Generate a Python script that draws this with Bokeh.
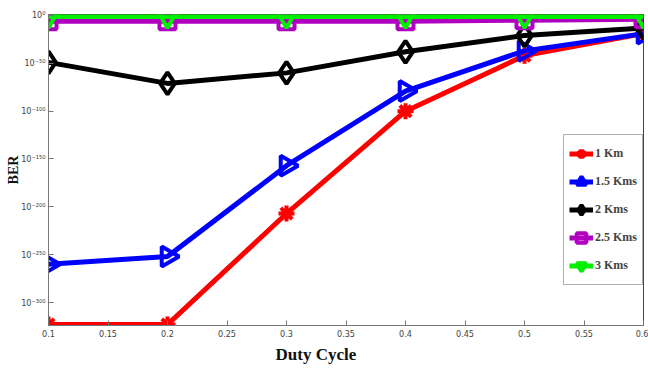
import math
from bokeh.plotting import figure
from bokeh.models import Legend, LegendItem, FixedTicker, Title
from bokeh.embed import file_html
from bokeh.resources import INLINE

# Data (BER expressed as exponent of 10)
duty = [0.1, 0.2, 0.3, 0.4, 0.5, 0.6]
ber_1km = [-323, -323, -207, -100, -42, -19]
ber_15km = [-260, -252, -157, -79, -37, -19]
ber_2km = [-49, -71, -60, -38, -21, -13]
ber_25km = [-6, -6, -6, -6, -5, -4]
ber_3km = [-1, -1, -1, -1, -1, -1]

series_names = ["1 Km", "1.5 Kms", "2 Kms", "2.5 Kms", "3 Kms"]
x_ticks = [0.1, 0.15, 0.2, 0.25, 0.3, 0.35, 0.4, 0.45, 0.5, 0.55, 0.6]
x_tick_labels = ["0.1", "0.15", "0.2", "0.25", "0.3", "0.35", "0.4", "0.45", "0.5", "0.55", "0.6"]
y_ticks = [0, -50, -100, -150, -200, -250, -300]
y_tick_labels = ["10\u2070", "10\u207b\u2075\u2070", "10\u207b\u00b9\u2070\u2070", "10\u207b\u00b9\u2075\u2070",
                 "10\u207b\u00b2\u2070\u2070", "10\u207b\u00b2\u2075\u2070", "10\u207b\u00b3\u2070\u2070"]

p = figure(width=648, height=373, output_backend="svg", toolbar_location=None,
           x_range=(0.1, 0.6), y_range=(-324, 1),
           min_border_left=48, min_border_right=5, min_border_top=14, min_border_bottom=48)
p.background_fill_color = "white"
p.border_fill_color = "white"
p.outline_line_color = "#444444"
p.grid.visible = False

p.xaxis.ticker = FixedTicker(ticks=x_ticks)
p.xaxis.major_label_overrides = {t: s for t, s in zip(x_ticks, x_tick_labels)}
p.yaxis.ticker = FixedTicker(ticks=y_ticks)
p.yaxis.major_label_overrides = {t: s for t, s in zip(y_ticks, y_tick_labels)}
for ax in (p.xaxis[0], p.yaxis[0]):
    ax.major_tick_in = 5
    ax.major_tick_out = 0
    ax.minor_tick_in = 0
    ax.minor_tick_out = 0
    ax.axis_line_color = "#777777"
    ax.major_tick_line_color = "#777777"
    ax.major_label_text_font = "DejaVu Sans Condensed"
    ax.major_label_text_font_size = "9px"
    ax.major_label_text_color = "#444444"
p.xaxis.major_label_standoff = 4
p.yaxis.major_label_standoff = 3

p.yaxis.axis_label = "BER"
p.yaxis.axis_label_text_font = "Liberation Serif"
p.yaxis.axis_label_text_font_style = "bold"
p.yaxis.axis_label_text_font_size = "14px"
p.yaxis.axis_label_text_color = "#111111"
p.yaxis.axis_label_standoff = -3

colors = ["#ff0000", "#0000ff", "#000000", "#b000c0", "#00ee00"]
markers = ["asterisk", "triangle", "diamond", "square", "inverted_triangle"]
angles = [0, -math.pi / 2, 0, 0, 0]
sizes = [16, 20, 22, 16, 20]
data = [ber_1km, ber_15km, ber_2km, ber_25km, ber_3km]

items = []
for name, ys, c, m, a, s in zip(series_names, data, colors, markers, angles, sizes):
    r1 = p.line(duty, ys, line_color=c, line_width=5)
    r2 = p.scatter(duty, ys, marker=m, size=s, angle=a, line_color=c, line_width=4,
                   fill_color="white", fill_alpha=0.0)
    items.append(LegendItem(label=name, renderers=[r1, r2]))

legend = Legend(items=items, location=(515, 40))
legend.label_text_font = "Liberation Serif"
legend.label_text_font_style = "bold"
legend.label_text_font_size = "12px"
legend.glyph_width = 24
legend.glyph_height = 27
legend.label_height = 27
legend.spacing = 1
legend.padding = 5
legend.margin = 0
legend.label_standoff = 2
legend.border_line_color = "#666666"
legend.background_fill_color = "white"
legend.background_fill_alpha = 1.0
p.add_layout(legend, "center")

xt = Title(text="Duty Cycle", align="left", offset=227, text_font="Liberation Serif",
           text_font_style="bold", text_font_size="17px", text_color="#111111", standoff=6)
p.add_layout(xt, "below")

open("out.html", "w").write(file_html(p, INLINE))
